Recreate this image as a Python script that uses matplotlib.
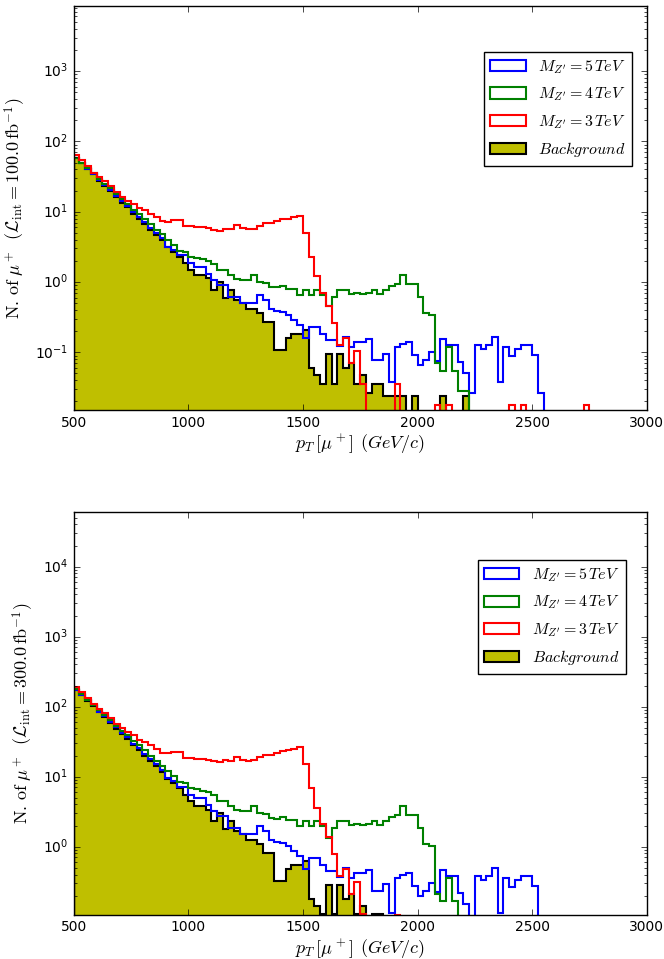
import numpy as np
import matplotlib
matplotlib.use('Agg')
import matplotlib.pyplot as plt

plt.style.use('classic')
plt.rcParams['mathtext.fontset'] = 'cm'

# pT bins, 25 GeV wide
edges = np.arange(500, 3001, 25)
centers = 0.5 * (edges[:-1] + edges[1:])

# events per bin for 100 fb^-1
bkg = [57.5, 49, 40, 34, 27.5, 23.5, 19.5, 16.2, 13.5, 11.5,
       9.3, 7.9, 6.6, 5.5, 4.7, 3.9, 3.1, 2.7, 2.3, 1.85,
       1.48, 1.26, 1.26, 1.13, 0.77, 1.01, 0.59, 0.77, 0.55, 0.50,
       0.42, 0.42, 0.36, 0.27, 0.27, 0.107, 0.107, 0.16, 0.18, 0.18,
       0.21, 0.06, 0.048, 0.036, 0.095, 0.036, 0.095, 0.06, 0.07, 0.036,
       0.048, 0.026, 0.036, 0.036, 0.024, 0.024, 0.024, 0.024, 0, 0.024,
       0, 0, 0, 0, 0.024, 0, 0, 0, 0.024, 0] + [0] * 30

mz3 = [64.5, 54, 44, 36, 31, 27, 23, 18.8, 16.4, 14.4,
       13, 11.3, 10.5, 9.4, 8.4, 7.3, 7.2, 7.6, 7.6, 6.2,
       6.2, 6.0, 6.0, 5.8, 5.5, 5.4, 5.7, 5.6, 6.4, 5.8,
       5.6, 5.7, 6.3, 6.8, 6.9, 7.3, 7.8, 8.0, 8.4, 8.8,
       5.0, 2.3, 1.2, 0.7, 0.46, 0.26, 0.126, 0.16, 0.07, 0.104,
       0.036, 0, 0, 0, 0, 0, 0.035, 0, 0, 0,
       0, 0, 0, 0.0177, 0, 0.0177, 0, 0, 0, 0,
       0, 0, 0, 0, 0, 0, 0.0177, 0, 0.0177, 0,
       0, 0, 0, 0, 0, 0, 0, 0, 0, 0.0177] + [0] * 10

mz4 = [59, 50, 41.7, 35.5, 29.5, 25.1, 21.4, 17.8, 15.1, 12.9,
       10.7, 9.3, 7.9, 6.6, 5.5, 4.8, 4.0, 3.4, 2.8, 2.7,
       2.3, 2.2, 2.1, 2.0, 1.82, 1.48, 1.48, 1.26, 1.12, 1.07,
       1.07, 1.26, 1.0, 0.96, 0.86, 0.84, 0.88, 0.80, 0.80, 0.66,
       0.78, 0.66, 0.78, 0.65, 0.45, 0.62, 0.77, 0.77, 0.68, 0.70,
       0.68, 0.70, 0.78, 0.68, 0.77, 0.88, 0.93, 1.26, 0.95, 0.93,
       0.62, 0.36, 0.34, 0.07, 0.055, 0.12, 0.055, 0.028, 0.028, 0] + [0] * 30

mz5 = [58, 49.5, 40.8, 34.7, 28.3, 24.2, 20.2, 16.9, 14.2, 12.1,
       9.9, 8.5, 7.1, 5.9, 5.0, 4.2, 3.2, 2.85, 2.4, 2.4,
       1.84, 1.65, 1.65, 1.3, 1.07, 0.91, 0.91, 0.62, 0.62, 0.5,
       0.5, 0.5, 0.66, 0.56, 0.42, 0.39, 0.37, 0.34, 0.29, 0.245,
       0.16, 0.23, 0.23, 0.18, 0.149, 0.149, 0.124, 0.166, 0.12, 0.141,
       0.141, 0.153, 0.078, 0.078, 0.096, 0.038, 0.12, 0.13, 0.141, 0.091,
       0.066, 0.078, 0.102, 0.075, 0.153, 0.126, 0.126, 0.073, 0.05, 0.026,
       0.126, 0.113, 0.126, 0.166, 0.038, 0.12, 0.088, 0.113, 0.126, 0.126,
       0.091, 0.026] + [0] * 18

lumis = [100.0, 300.0]
ylims = [(0.0149, 8500), (0.106, 60000)]
decades = [range(-1, 4), range(0, 5)]
positions = [[0.111, 0.572, 0.863, 0.422], [0.111, 0.046, 0.863, 0.420]]
legend_anchor = [(0.975, 0.886), (0.964, 0.881)]

fig = plt.figure(figsize=(6.64, 9.59), dpi=100)

for lumi, ylim, dec, pos, anch in zip(lumis, ylims, decades, positions, legend_anchor):
    ax = fig.add_axes(pos)
    scale = lumi / 100.0
    w = lambda v: np.array(v, dtype=float) * scale
    hb = ax.hist(centers, bins=edges, weights=w(bkg), histtype='stepfilled',
                 color='y', edgecolor='k', linewidth=1.5, label=r'$Background$')
    h5 = ax.hist(centers, bins=edges, weights=w(mz5), histtype='step',
                 color='b', linewidth=1.5, label=r"$M_{Z^{\prime}}=5\,TeV$")
    h4 = ax.hist(centers, bins=edges, weights=w(mz4), histtype='step',
                 color='g', linewidth=1.5, label=r"$M_{Z^{\prime}}=4\,TeV$")
    h3 = ax.hist(centers, bins=edges, weights=w(mz3), histtype='step',
                 color='r', linewidth=1.5, label=r"$M_{Z^{\prime}}=3\,TeV$")
    ax.set_yscale('log')
    ax.set_xlim(500, 3000)
    ax.set_yticks([10.0 ** k for k in dec])
    ax.set_ylim(*ylim)
    ax.tick_params(labelsize=10)
    ax.set_xlabel(r'$p_T\,[\mu^+]\;\,(GeV/c)$', fontsize=13, labelpad=2)
    ax.set_ylabel(r'$\mathrm{N.\,of}\;\mu^+\;\;(\mathcal{L}_{\rm int}=%.1f\,\mathrm{fb}^{-1})$' % lumi,
                  fontsize=13)
    handles = [h5[2][0], h4[2][0], h3[2][0], hb[2][0]]
    labels = [h.get_label() for h in handles]
    ax.legend(handles, labels, loc='upper right', bbox_to_anchor=anch,
              borderaxespad=0, fontsize=11.5, handlelength=2.2,
              labelspacing=0.6, frameon=True)

fig.savefig('out.png', dpi=100)
